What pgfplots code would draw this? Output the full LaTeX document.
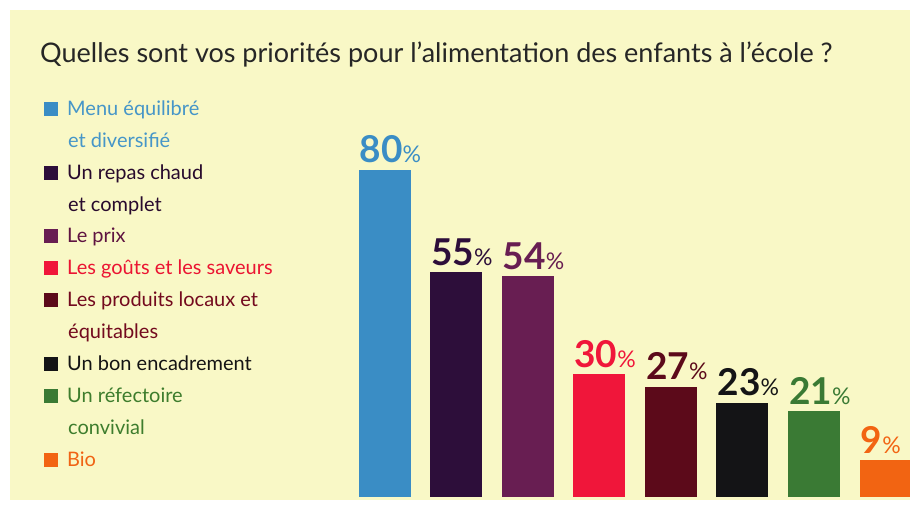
\documentclass[border=0pt]{standalone}
\usepackage{pgfplots}
\pgfplotsset{compat=1.18}
\usepackage{fontspec}
\setmainfont{Lato}
\definecolor{bg}{RGB}{249,248,198}
\definecolor{cA}{RGB}{58,141,197}
\definecolor{cB}{RGB}{45,14,58}
\definecolor{cC}{RGB}{104,30,82}
\definecolor{cD}{RGB}{240,22,58}
\definecolor{cE}{RGB}{92,10,26}
\definecolor{cF}{RGB}{20,20,22}
\definecolor{cG}{RGB}{58,122,52}
\definecolor{cH}{RGB}{242,100,18}
\definecolor{tA}{RGB}{70,150,200}
\definecolor{tB}{RGB}{40,10,45}
\definecolor{tC}{RGB}{95,20,65}
\definecolor{tD}{RGB}{235,20,50}
\definecolor{tE}{RGB}{115,10,30}
\definecolor{tF}{RGB}{20,20,20}
\definecolor{tG}{RGB}{62,125,45}
\definecolor{tH}{RGB}{240,100,20}
\newcommand{\pct}{{\fontsize{23}{23}\selectfont\mdseries\%}}
\begin{document}
\begin{tikzpicture}[x=1pt,y=1pt]
\useasboundingbox (0,0) rectangle (910,505);
\clip (0,0) rectangle (910,505);
\fill[white] (0,0) rectangle (910,505);
\fill[bg] (10,5) rectangle (910,495);
\node[anchor=base west, inner sep=0pt, text=black!85] at (40,442) {\fontsize{27}{27}\selectfont Quelles sont vos priorités pour l’alimentation des enfants à l’école ?};
% legend
\newcommand{\leg}[4]{%
  \fill[#1] (44,505-#2) rectangle (58,505-#2+14);
  \node[anchor=base west, inner sep=0pt, text=#3] at (67,505-#2) {\fontsize{20}{20}\selectfont #4};}
\newcommand{\legc}[3]{%
  \node[anchor=base west, inner sep=0pt, text=#2] at (68,505-#1) {\fontsize{20}{20}\selectfont #3};}
\leg{cA}{116}{tA}{Menu équilibré}
\legc{148}{tA}{et diversifié}
\leg{cB}{180}{tB}{Un repas chaud}
\legc{212}{tB}{et complet}
\leg{cC}{243}{tC}{Le prix}
\leg{cD}{275}{tD}{Les goûts et les saveurs}
\leg{cE}{307}{tE}{Les produits locaux et}
\legc{339}{tE}{équitables}
\leg{cF}{371}{tF}{Un bon encadrement}
\leg{cG}{403}{tG}{Un réfectoire}
\legc{435}{tG}{convivial}
\leg{cH}{467}{tH}{Bio}
\begin{axis}[
  at={(348.7pt,8pt)}, anchor=south west,
  scale only axis, width=561.3pt, height=368pt,
  xmin=-0.5, xmax=7.34, ymin=0, ymax=90,
  hide axis, ybar, bar width=52pt, bar shift=0pt,
  /pgf/number format/assume math mode=true,
  nodes near coords={\pgfmathprintnumber{\pgfplotspointmeta}\pct},
  every node near coord/.append style={font=\fontsize{37}{37}\selectfont\bfseries, anchor=base west, inner sep=0pt, xshift=-25pt, yshift=7pt},
]
\addplot[fill=cA, draw=none, nodes near coords style={text=cA}] coordinates {(0,80)};
\addplot[fill=cB, draw=none, nodes near coords style={text=cB}] coordinates {(1,55)};
\addplot[fill=cC, draw=none, nodes near coords style={text=cC}] coordinates {(2,54)};
\addplot[fill=cD, draw=none, nodes near coords style={text=cD}] coordinates {(3,30)};
\addplot[fill=cE, draw=none, nodes near coords style={text=cE}] coordinates {(4,27)};
\addplot[fill=cF, draw=none, nodes near coords style={text=cF}] coordinates {(5,23)};
\addplot[fill=cG, draw=none, nodes near coords style={text=cG}] coordinates {(6,21)};
\addplot[fill=cH, draw=none, nodes near coords style={text=cH}] coordinates {(7,9)};
\end{axis}
\end{tikzpicture}
\end{document}
